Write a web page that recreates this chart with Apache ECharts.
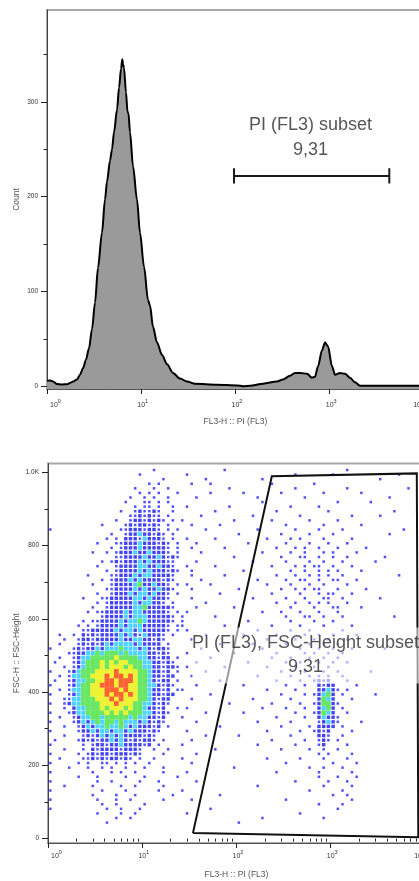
<!DOCTYPE html>
<html><head><meta charset="utf-8">
<script src="https://cdn.jsdelivr.net/npm/echarts@6/dist/echarts.min.js"></script>
<style>html,body{margin:0;padding:0;background:#fff;overflow:hidden}#c{width:419px;height:881px}</style>
</head><body><div id="c"></div>
<script>
const FONT = "'Liberation Sans', Arial, Helvetica, sans-serif";

// ---------- Top histogram: FL3-H (PI) values and counts ----------
const histX = [1.00,1.076,1.158,1.277,1.442,1.630,1.754,1.888,2.081,2.239,2.410,2.593,2.790,3.002,3.230,3.476,3.832,4.124,4.332,4.662,4.896,5.142,5.533,5.811,6.103,6.29,6.41,6.56,6.89,7.14,7.32,7.60,8.18,9.01,9.70,10.7,11.8,12.4,13.3,14.7,16.6,18.8,21.7,25.8,30.6,37.2,63.7,103.7,120,142.6,196,275,319,379,428,484,574,648,698,751,828,891,958,1057,1137,1285,1452,1640,1853,2094,10000];
const histCount = [5.8,6,5,2.3,1.8,2,3.4,4.8,7,12,19,28,40,60,88,125,162,197,216,238,250,268,292,315,335,345,340,336,310,290,288,268,232,197,162,126,91,85,63,46,33,23,14,8,5,2.6,1.6,0.8,0,0.5,2.6,5,7,11,14,14,13,9,10,21,38,46,42,21,12,14,13,9,4,0.5,0.5];

// histogram gate (range bar)
const histGateX = [96.4, 4285];
const histGateY = 221.8;
const histGateCapY = [214, 230];
const histGateText = ['PI (FL3) subset', '9,31'];
const histGateTextAt = [625, 262];

// ---------- Axis ticks ----------
const xDecades = [1, 10, 100, 1000, 10000];
const xDecadeExp = ['0', '1', '2', '3', '4'];
const xMinorTicks = [2,3,4,5,6,7,8,9,20,30,40,50,60,70,80,90,200,300,400,500,600,700,800,900,2000,3000,4000,5000,6000,7000,8000,9000];
const histYTicks = [0, 100, 200, 300];
const histYTickLabels = ['0', '100', '200', '300'];
const histYMinor = [50, 150, 250, 350];
const scatYTicks = [0, 200, 400, 600, 800, 1000];
const scatYTickLabels = ['0', '200', '400', '600', '800', '1.0K'];
const scatYMinor = [100, 300, 500, 700, 900];

// ---------- Bottom pseudocolor plot: density grid ----------
// bins: log10(FL3) from 0 in steps of 0.05; FSC-H from 1025 downward in steps of 12.5
// '.' none, 'o' single event, '1' blue, '2' cyan, '3' green, '4' yellow, '5' red
const densLog0 = 0, densLogStep = 0.05, densY0 = 1025, densYStep = 12.5;
const densRows = [
"",
"0:......................o..... 37:o 63:o",
"0:...................o........ 29:o 52:o 60:o 74:o",
"0:........................o... 33:o 45:o 70:o",
"0:.....................o.o.... 30:o 34:o 47:o 56:o",
"0:..................o...o..o.. 38:o 52:o 63:o 76:o",
"0:...................o.o.o...o 34:o 41:o 49:o 58:o 66:o",
"0:.................o..o.o..o.. 31:o 44:o 54:o 72:o",
"0:................o...oo.o.o.. 45:o 61:o 68:o",
"0:..................o.oo.o..o. 29:o 38:o 51:o 57:o",
"0:...............o..o1oo1o..o. 35:o 48:o 59:o 73:o",
"0:.................oo1o1oo.o.. 32:o 43:o 53:o 64:o 70:o",
"0:..............o..o11o1o1o.o. 28:o 39:o 47:o 55:o 61:o",
"0:...........o....o1o11o1o.o.. 30:o 36:o 50:o 58:o 66:o",
"0:o..............oo111o11o.o.o 33:o 44:o 52:o 57:o 62:o 75:o",
"0:.............o..o11211o1o.o. 40:o 49:o 55:o 60:o 72:o",
"0:............o.o.111o2111o.o. 29:o 35:o 46:o 51:o 53:o 58:o 64:o",
"0:..........o...oo1112111o1o.o 31:o 42:o 50:o 55:o 59:o 63:o",
"0:.............o.o111211111o.o 30:o 37:o 48:o 52:o 54:o 57:o 61:o 67:o",
"0:.........o..o.o1112112111o.o 32:o 45:o 51:o 54:o 58:o 60:o 65:o",
"0:..............oo111121121o1o 39:o 49:o 53:o 54:o 57:o 60:o 63:o 71:o",
"0:...........o.o1o111212111oo. 31:o 43:o 50:o 55:o 58:o 62:o 69:o",
"0:..........o...o11112211211o. 29:o 35:o 47:o 52:o 54:o 56:o 57:o 60:o 64:o",
"0:............o.o1111212111o1o 30:o 41:o 51:o 54:o 57:o 59:o 61:o 66:o",
"0:........o....oo11121221111o. 30:o 37:o 48:o 52:o 55:o 57:o 59:o 62:o 74:o",
"0:...........o.o1112121111o1o. 32:o 44:o 50:o 53:o 54:o 57:o 60:o 61:o 65:o",
"0:.........o...o11112311211o.o 29:o 34:o 46:o 51:o 55:o 58:o 63:o",
"0:............oo111121211211o. 30:o 40:o 49:o 52:o 54:o 56:o 57:o 61:o 67:o",
"0:..........o..o11121221211o.o 36:o 47:o 53:o 57:o 59:o 60:o 64:o",
"0:.......o...oo111112212111o.. 30:o 43:o 50:o 54:o 58:o 59:o 62:o 70:o",
"0:..........o.o11111212211o.o. 33:o 48:o 52:o 55:o 57:o 59:o 63:o",
"0:.........o..o1111122311111o. 31:o 39:o 51:o 56:o 60:o 61:o 66:o",
"0:........o.oo1111212211111o.o 29:o 45:o 49:o 53:o 57:o 61:o",
"0:...........o11112122211111o. 28:o 35:o 50:o 54:o 55:o 58:o 62:o 73:o",
"0:.......o.oo111121223211111o. 28:o 42:o 51:o 56:o 60:o",
"0:......o.o.o11112122211111o.o 28:o 37:o 47:o 53:o 58:o 64:o",
"0:.......oo1111121221211111o.o 29:o 44:o 51:o 55:o 62:o",
"0:..o..o.1o1o11112121o2111o.o. 33:o 41:o 48:o 54:o 57:o 60:o 65:o",
"0:...o..o11o111112112211o1o... 30:o 46:o 52:o 56:o 59:o 63:o",
"0:..o...o1o1o1212222121111.o.. 36:o 43:o 50:o 55:o 58:o 61:o",
"0:o....o1o11212223222121o11o.. 32:o 45:o 53:o 57:o 60:o 64:o 71:o",
"0:....oo11223233323222211o1o.. 29:o 39:o 48:o 54:o 56:o 59:o 62:o",
"0:..o..o12233333433332211o11.o 34:o 47:o 51:o 55:o 58:o 61:o",
"0:.o...o123334343443332211o1o. 31:o 42:o 50:o 53:o 57:o 60:o 63:o",
"0:...o.o123334344434332211o11o 29:o 37:o 46:o 52:o 56:o 59:o",
"0:o...o1233344445444433211o1.o 33:o 49:o 54:o 58:o 61:o 68:o",
"0:..o.o2233444545545433211o11. 30:o 44:o 51:o 55:o 57:o.o 62:o",
"0:.o..o122334455455543321o11.o 36:o 48:o 53:o 56:o1o1 63:o",
"0:o...o1233445554554433221o1o. 31:o 41:o 50:o 54:o 57:1o11 65:o",
"0:..o.o2233444555454433211o1.o 28:o 46:o 52:o 57:1121o 63:o",
"0:o...o1233444545545433211o11. 34:o 49:o 54:o 56:o1231 62:o 69:o",
"0:...oo223334445454443321o11.. 30:o 43:o 51:o 57:1321 64:o",
"0:o..o1223333444544433221o1o.. 38:o 47:o 53:o 56:o1331o",
"0:...o.122333434443433211o1..o 29:o 45:o 50:o 54:o 57:1231 62:o",
"0:o...o122333343434333221o1o.. 33:o 41:o 52:o 56:o1321 63:o",
"0:..o..o12233233333232211o1... 28:o 48:o 54:o 57:1211 61:o",
"0:o....o1212323323222121o1o... 31:o 44:o 51:o 57:o121o 66:o",
"0:...o..o121223223212111o1.o.. 36:o 49:o 55:o 57:1111 62:o",
"0:o.....o11212212212111o1o.... 29:o 46:o 53:o 56:o1o1 64:o",
"0:...o...o1o1212121111o1o..... 33:o 40:o 51:o 57:11o 62:o",
"0:.o....o1o1o112121o1o11o.o... 30:o 47:o 54:o 57:o1o 61:o",
"0:o......o.o11o1121111o1.o.... 28:o 44:o 52:o 57:o1 63:o",
"0:...o...o.1o1111o111o..o..o.. 35:o 49:o 55:o 58:o 61:o",
"0:o.....o.o1o11o111o1o....o... 31:o 57:o.o 64:o",
"0:..o....oo1o1o11o1o.o..o..... 28:o 46:o 53:o 58:o 63:o",
"0:o.....o.o..oo.o.o.o..o...... 30:o 50:o 60:o 65:o",
"0:....o...o..o.o..o...o...o... 39:o 55:o 58:o 62:o",
"0:o........o...o.o..o.....o... 29:o 48:o 57:o 64:o",
"0:......o...o.....o...o......o 57:o 61:o 65:o",
"0:o.........o..o.....o...o.... 31:o 52:o 59:o 63:o",
"0:...o.....o.....o..o.....o... 44:o 58:o 64:o",
"0:o..........o....o......o.... 28:o 55:o 62:o",
"0:.........o....o...o.......o. 36:o 60:o 63:o",
"0:o.........o...o..o......o... 30:o 50:o 64:o",
"0:...........o..o.....o....... 57:o 62:o",
"0:o...........o..o...o........ 34:o 61:o",
"0:..........o....o..o......... 29:o 53:o",
"0:..............o..o.......... 45:o 58:o",
"0:............o............... 40:o",
"",
"",
""
];

// polygon gate (FL3, FSC-H) vertices
const polyGateX = [34.5, 237, 8185, 8490, 34.5];
const polyGateY = [15, 989, 997, 4, 15];
const polyGateText = ['PI (FL3), FSC-Height subset', '9,31'];
const polyGateTextAt = [540, 500];

// ---------- build ----------
const densLevels = ['o', '1', '2', '3', '4', '5'];
const densData = {};
densLevels.forEach(l => densData[l] = []);
densRows.forEach((row, r) => {
  if (!row) return;
  row.split(' ').forEach(tok => {
    const k = tok.indexOf(':');
    const start = +tok.slice(0, k);
    const s = tok.slice(k + 1);
    for (let j = 0; j < s.length; j++) {
      const ch = s[j];
      if (ch === '.' || !densData[ch]) continue;
      const c = start + j;
      densData[ch].push([Math.pow(10, densLog0 + (c + 0.5) * densLogStep), densY0 - (r + 0.5) * densYStep]);
    }
  });
});
const densStyle = {
  o: { color: '#2424ff', size: 2.5 },
  '1': { color: '#1414f0', size: 3.4 },
  '2': { color: '#22c8ff', size: 4.2 },
  '3': { color: '#44e03c', size: 4.8 },
  '4': { color: '#e8f000', size: 4.8 },
  '5': { color: '#ff3c00', size: 4.8 }
};

function decadeLabel(v) {
  for (let i = 0; i < xDecades.length; i++) {
    if (Math.abs(Math.log10(v) - Math.log10(xDecades[i])) < 0.01) return '{b|10}{s|' + xDecadeExp[i] + '}';
  }
  return '';
}
const xRich = {
  b: { fontSize: 7, fontFamily: FONT, color: '#333', padding: [0, 0, 0, 3], lineHeight: 11, verticalAlign: 'bottom' },
  s: { fontSize: 5.5, fontFamily: FONT, color: '#333', lineHeight: 11, verticalAlign: 'top' }
};
function xMajor(grid, margin, gap) {
  return {
    type: 'log', logBase: 10, gridIndex: grid, min: 1, max: 10000, position: 'bottom',
    axisLine: { show: true, onZero: false, lineStyle: { color: '#555', width: 1 } },
    axisTick: { show: true, customValues: xDecades, length: 5, lineStyle: { color: '#222', width: 1 } },
    axisLabel: { show: true, customValues: xDecades, formatter: decadeLabel, rich: xRich, margin: margin, alignMinLabel: 'left', alignMaxLabel: 'right', showMinLabel: true, showMaxLabel: true },
    splitLine: { show: false }, minorTick: { show: false },
    name: 'FL3-H :: PI (FL3)', nameLocation: 'middle', nameGap: gap,
    nameTextStyle: { fontSize: 8.5, color: '#555', fontFamily: FONT }
  };
}
function xMinor(grid) {
  return {
    type: 'log', logBase: 10, gridIndex: grid, min: 1, max: 10000, position: 'bottom',
    axisLine: { show: false },
    axisTick: { show: true, customValues: xMinorTicks, length: 3, lineStyle: { color: '#222', width: 1 } },
    axisLabel: { show: false }, splitLine: { show: false }
  };
}
function yMajor(grid, min, max, ticks, labels, name, gap, margin) {
  return {
    type: 'value', gridIndex: grid, min: min, max: max, position: 'left',
    axisLine: { show: true, onZero: false, lineStyle: { color: '#444', width: 1 } },
    axisTick: { show: true, customValues: ticks, length: 6, lineStyle: { color: '#222', width: 1 } },
    axisLabel: {
      show: true, customValues: ticks, margin: margin, fontSize: 6.5, color: '#333', fontFamily: FONT,
      formatter: v => { const i = ticks.indexOf(Math.round(v)); return i >= 0 ? labels[i] : ''; }
    },
    splitLine: { show: false },
    name: name, nameLocation: 'middle', nameGap: gap, nameMoveOverlap: false,
    nameTextStyle: { fontSize: 8.5, color: '#555', fontFamily: FONT }
  };
}
function yMinorAxis(grid, min, max, ticks) {
  return {
    type: 'value', gridIndex: grid, min: min, max: max, position: 'left',
    axisLine: { show: false },
    axisTick: { show: true, customValues: ticks, length: 3.5, lineStyle: { color: '#222', width: 1 } },
    axisLabel: { show: false }, splitLine: { show: false }
  };
}

const series = [];
series.push({
  type: 'line', xAxisIndex: 0, yAxisIndex: 0, silent: true,
  data: histX.map((x, i) => [x, histCount[i]]),
  symbol: 'none', smooth: 0.3, smoothMonotone: 'x',
  lineStyle: { color: '#000', width: 2 },
  areaStyle: { color: '#9a9a9a', opacity: 1, origin: 'start' }
});
series.push({
  type: 'line', xAxisIndex: 0, yAxisIndex: 0, silent: true, symbol: 'none',
  data: [[histGateX[0], histGateCapY[0]], [histGateX[0], histGateCapY[1]], [histGateX[0], histGateY],
         [histGateX[1], histGateY], [histGateX[1], histGateCapY[0]], [histGateX[1], histGateCapY[1]]],
  lineStyle: { color: '#1a1a1a', width: 2 }
});
series.push({
  type: 'scatter', xAxisIndex: 0, yAxisIndex: 0, silent: true, symbolSize: 1,
  itemStyle: { color: 'rgba(0,0,0,0)' },
  data: [histGateTextAt],
  label: { show: true, position: 'inside', formatter: histGateText.join('\n'), fontSize: 18, lineHeight: 25, color: '#2a2a2a', fontFamily: FONT }
});
densLevels.forEach(l => {
  series.push({
    type: 'scatter', xAxisIndex: 2, yAxisIndex: 2, silent: true, symbol: 'rect',
    symbolSize: densStyle[l].size, itemStyle: { color: densStyle[l].color },
    data: densData[l]
  });
});
series.push({
  type: 'line', xAxisIndex: 2, yAxisIndex: 2, silent: true, symbol: 'none',
  data: polyGateX.map((x, i) => [x, polyGateY[i]]),
  lineStyle: { color: '#111', width: 2, join: 'miter' }, z: 5
});
series.push({
  type: 'scatter', xAxisIndex: 2, yAxisIndex: 2, silent: true, symbolSize: 1, z: 10,
  itemStyle: { color: 'rgba(0,0,0,0)' },
  data: [polyGateTextAt],
  label: { show: true, position: 'inside', formatter: polyGateText.join('\n'), fontSize: 18, lineHeight: 24, color: '#2a2a2a', fontFamily: FONT,
           backgroundColor: 'rgba(255,255,255,0.72)', padding: [4, 0] }
});

const chart = echarts.init(document.getElementById('c'), null, { renderer: 'canvas', width: 419, height: 881 });
chart.setOption({
  animation: false,
  backgroundColor: '#fff',
  grid: [
    { left: 47, top: 10, width: 377, height: 379, show: true, borderColor: '#a8a8a8', borderWidth: 2, containLabel: false, outerBoundsMode: 'none' },
    { left: 48, top: 463.5, width: 377, height: 379.5, show: true, borderColor: '#a8a8a8', borderWidth: 2, containLabel: false, outerBoundsMode: 'none' }
  ],
  xAxis: [xMajor(0, 9, 28), xMinor(0), xMajor(1, 6, 27), xMinor(1)],
  yAxis: [
    yMajor(0, -3, 397, histYTicks, histYTickLabels, 'Count', 26, 9),
    yMinorAxis(0, -3, 397, histYMinor),
    yMajor(1, -12, 1024, scatYTicks, scatYTickLabels, 'FSC-H :: FSC-Height', 27, 9),
    yMinorAxis(1, -12, 1024, scatYMinor)
  ],
  series: series
});
</script>
</body></html>
